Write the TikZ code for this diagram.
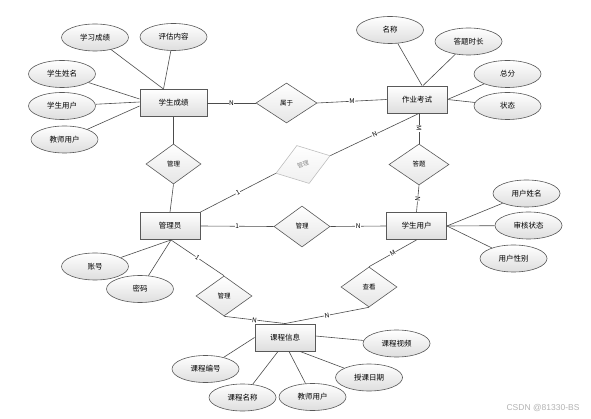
\documentclass[tikz,border=0pt]{standalone}
\usepackage{fontspec}
\setmainfont{Noto Sans CJK SC}
\newfontfamily\wmfont{Liberation Sans}
\usetikzlibrary{shapes.geometric}
\begin{document}
\begin{tikzpicture}[x=1pt,y=-1pt,
  entity/.style={rectangle, draw=black!65, line width=0.9pt, top color=white, bottom color=black!13,
    minimum width=60pt, minimum height=27pt, inner sep=0pt, font=\fontsize{7.5}{8}\selectfont},
  attr/.style={ellipse, draw=black!65, line width=0.6pt, top color=white, bottom color=black!13,
    minimum width=67pt, minimum height=27pt, inner sep=0pt, font=\fontsize{7.5}{8}\selectfont},
  rel/.style={diamond, draw=black!65, line width=0.6pt, top color=white, bottom color=black!10,
    minimum width=56pt, minimum height=40pt, inner sep=0pt, font=\fontsize{6.5}{7}\selectfont},
  conn/.style={draw=black!70, line width=0.6pt},
  card/.style={fill=white, inner sep=0.5pt, font=\fontsize{6.5}{7}\selectfont},
]
\useasboundingbox (0,0) rectangle (591,419);

% entities
\node[entity, minimum width=67pt] (cj) at (173.5,103) {学生成绩};
\node[entity] (zy) at (417,99.5) {作业考试};
\node[entity] (gly) at (170,226) {管理员};
\node[entity] (yh) at (416.5,226) {学生用户};
\node[entity] (kc) at (285,337.5) {课程信息};

% relations
\node[rel, minimum width=61pt] (sy) at (286.5,103) {属于};
\node[rel, minimum width=55pt] (gl1) at (173.5,164) {管理};
\node[rel, minimum width=57pt, rotate=18, draw=black!25, top color=white, bottom color=black!6, text=black!45, font=\fontsize{6}{6.5}\selectfont] (gray) at (303,164.5) {管理};
\node[rel, minimum width=60pt, minimum height=41pt] (dt) at (419,164.5) {答题};
\node[rel, minimum height=41pt] (gl2) at (302,226.5) {管理};
\node[rel] (gl3) at (224,296) {管理};
\node[rel] (ck) at (369,287) {查看};

% attributes
\node[attr] (a1) at (95,37.5) {学习成绩};
\node[attr] (a2) at (173.5,37) {评估内容};
\node[attr] (a3) at (62,74) {学生姓名};
\node[attr] (a4) at (62,106) {学生用户};
\node[attr] (a5) at (64.5,139.5) {教师用户};
\node[attr] (b1) at (390,30) {名称};
\node[attr] (b2) at (468.5,41.5) {答题时长};
\node[attr] (b3) at (507.5,74) {总分};
\node[attr] (b4) at (507.5,106) {状态};
\node[attr] (c1) at (526.5,193.5) {用户姓名};
\node[attr] (c2) at (528.5,225.5) {审核状态};
\node[attr] (c3) at (513.5,258.5) {用户性别};
\node[attr] (d1) at (95,266.5) {账号};
\node[attr] (d2) at (140,289) {密码};
\node[attr] (e1) at (205.5,369) {课程编号};
\node[attr] (e2) at (242.5,397.5) {课程名称};
\node[attr] (e3) at (312.5,397) {教师用户};
\node[attr] (e4) at (369,377.5) {授课日期};
\node[attr] (e5) at (396.5,343.5) {课程视频};

% attribute lines
\draw[conn] (a1) -- ([xshift=-10pt]cj.north);
\draw[conn] (a2) -- ([xshift=-10pt]cj.north);
\draw[conn] (a3) -- ([yshift=4pt]cj.west);
\draw[conn] (a4) -- ([yshift=1pt]cj.west);
\draw[conn] (a5) -- ([yshift=-3pt]cj.west);
\draw[conn] (b1) -- ([xshift=5pt]zy.north);
\draw[conn] (b2) -- ([xshift=6pt]zy.north);
\draw[conn] (b3) -- (zy.east);
\draw[conn] (b4) -- (zy.east);
\draw[conn] (c1) -- (yh.east);
\draw[conn] (c2) -- (yh.east);
\draw[conn] (c3) -- (yh.east);
\draw[conn] (d1) -- ([xshift=1pt]gly.south);
\draw[conn] (d2) -- ([xshift=1pt]gly.south);
\draw[conn] (e1) -- (kc.west);
\draw[conn] (e2) -- ([xshift=-7pt]kc.south);
\draw[conn] (e3) -- ([xshift=4pt]kc.south);
\draw[conn] (e4) -- ([xshift=15pt]kc.south);
\draw[conn] (e5) -- ([yshift=1.5pt]kc.east);

% relationship lines
\draw[conn] (cj.east) -- node[card] {N} (sy.west);
\draw[conn] (sy.east) -- node[card] {M} (zy.west);
\draw[conn] (cj.south) -- (gl1.north);
\draw[conn] (gl1.south) -- (gly.north);
\draw[conn] (gly.north east) -- node[card, sloped] {1} (gray.west);
\draw[conn] (gray.east) -- node[card, sloped] {N} ([xshift=2pt]zy.south);
\draw[conn] ([xshift=2pt]zy.south) -- node[card, sloped] {M} (dt.north);
\draw[conn] (dt.south) -- node[card, sloped] {N} (yh.north);
\draw[conn] (gly.east) -- node[card] {1} (gl2.west);
\draw[conn] (gl2.east) -- node[card] {N} (yh.west);
\draw[conn] ([xshift=1pt]gly.south) -- node[card, sloped] {1} (gl3.north);
\draw[conn] (gl3.south) -- node[card, sloped] {N} (kc.north);
\draw[conn] (ck.south) -- node[card, sloped] {N} (kc.north);
\draw[conn] (ck.north) -- node[card, sloped] {M} (yh.south);

% watermark
\node[font=\wmfont\fontsize{8.5}{9}\selectfont, text=black!30] (wm) at (543,408) {CSDN @81330-BS};
\end{tikzpicture}
\end{document}
